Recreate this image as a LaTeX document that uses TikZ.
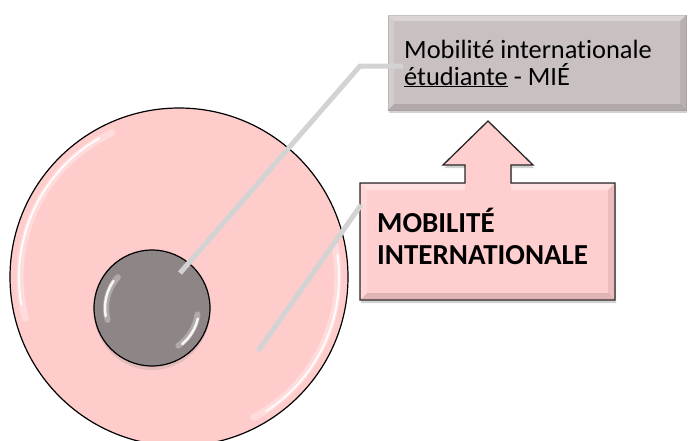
\documentclass[tikz,border=0pt]{standalone}
\usepackage{fontspec}
\setmainfont{Carlito}[Ligatures={NoCommon,NoContextual}]
\usetikzlibrary{shadows}
\definecolor{pinkfill}{RGB}{255,204,204}
\definecolor{nucleusgray}{RGB}{142,133,134}
\definecolor{topfill}{RGB}{201,192,193}
\definecolor{connector}{RGB}{211,211,211}
\definecolor{callpink}{RGB}{255,206,206}
\begin{document}
\begin{tikzpicture}[x=1pt,y=-1pt,
  cellstyle/.style={circle, draw=black, line width=1.2pt, fill=pinkfill, inner sep=0pt},
  nucstyle/.style={circle, draw=black, line width=1.2pt, fill=nucleusgray, inner sep=0pt,
    drop shadow={shadow xshift=0pt, shadow yshift=-4pt, opacity=0.2}},
  shine/.style={white, line width=2pt, line cap=round, opacity=0.9},
  glow/.style={white, line width=7pt, line cap=round, opacity=0.3},
  conn/.style={connector, line width=5pt},
  topbox/.style={rectangle, fill=topfill, draw=topfill!85!black, line width=0.6pt, inner sep=0pt,
    drop shadow={shadow xshift=1pt, shadow yshift=-3pt, opacity=0.35}},
  callstyle/.style={fill=callpink, draw=black!85, line width=1.3pt, line join=miter,
    drop shadow={shadow xshift=1pt, shadow yshift=-3pt, opacity=0.35}},
  lighten/.style={fill=white, opacity=0.35, draw=none},
  darken/.style={fill=black, opacity=0.12, draw=none},
  toptext/.style={anchor=base west, inner sep=0pt, font=\fontsize{26.4}{27}\selectfont},
  bigtext/.style={anchor=base west, inner sep=0pt, font=\fontsize{29}{32}\selectfont\bfseries}
]
\useasboundingbox (0,0) rectangle (690,440);
\clip (0,0) rectangle (690,440);

% outer cell
\node[cellstyle, minimum size=338pt] (cell) at (179,277) {};
\draw[glow] (cell.center) ++(165:159) arc[start angle=165, end angle=245, radius=159];
\draw[shine] (cell.center) ++(170:160) arc[start angle=170, end angle=240, radius=160];
\draw[glow] (cell.center) ++(-12:159) arc[start angle=-12, end angle=62, radius=159];
\draw[shine] (cell.center) ++(-8:160) arc[start angle=-8, end angle=57, radius=160];

% nucleus
\node[nucstyle, minimum size=116pt] (nuc) at (152,308) {};
\draw[glow, line width=6pt] (nuc.center) ++(165:46) arc[start angle=165, end angle=222, radius=46];
\draw[shine, line width=2.5pt] (nuc.center) ++(170:47) arc[start angle=170, end angle=215, radius=47];
\draw[glow, line width=6pt] (nuc.center) ++(8:46) arc[start angle=8, end angle=55, radius=46];
\draw[shine, line width=2.5pt] (nuc.center) ++(13:47) arc[start angle=13, end angle=50, radius=47];

% top box
\node[topbox, minimum width=298pt, minimum height=95pt] (mie) at (537,62.5) {};
\fill[lighten] (388,15) -- (686,15) -- (680,21) -- (394,21) -- cycle;
\fill[lighten, opacity=0.2] (388,15) -- (394,21) -- (394,104) -- (388,110) -- cycle;
\fill[darken] (388,110) -- (686,110) -- (680,104) -- (394,104) -- cycle;
\fill[darken, opacity=0.08] (686,15) -- (686,110) -- (680,104) -- (680,21) -- cycle;
\node[toptext] (mie1) at (404,58) {Mobilité internationale};
\node[toptext] (mie2) at (404,85) {\underline{étudiante} - MIÉ};

% callout with up arrow
\draw[callstyle] (360,183) -- (465,183) -- (465,165) -- (443,165) -- (488,121)
  -- (533,165) -- (511,165) -- (511,183) -- (615,183) -- (615,300) -- (360,300) -- cycle;
\fill[lighten] (361,184) -- (465,184) -- (465,190) -- (367,190) -- cycle;
\fill[lighten] (511,184) -- (614,184) -- (608,190) -- (511,190) -- cycle;
\fill[lighten, opacity=0.2] (361,184) -- (367,190) -- (367,293) -- (361,299) -- cycle;
\fill[darken] (361,299) -- (614,299) -- (608,293) -- (367,293) -- cycle;
\fill[darken, opacity=0.08] (614,184) -- (614,299) -- (608,293) -- (608,190) -- cycle;
\node[bigtext] (mob1) at (377,232) {MOBILITÉ};
\node[bigtext] (mob2) at (377,264) {INTERNATIONALE};
\coordinate (callL) at (361,205);

% connectors
\coordinate (nucTip) at (180,273);
\coordinate (bend) at (360,66);
\coordinate (mieL) at (403,66);
\coordinate (cellTip) at (258,351);
\draw[conn] (nucTip) -- (bend) -- (mieL);
\draw[conn] (cellTip) -- (callL);
\end{tikzpicture}
\end{document}
